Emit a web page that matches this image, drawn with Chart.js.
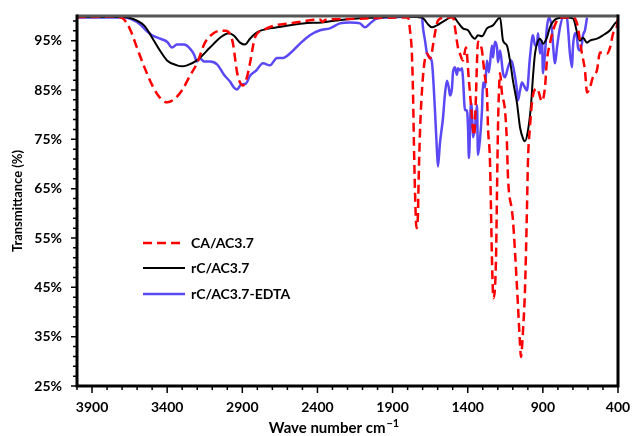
<!DOCTYPE html>
<html>
<head>
<meta charset="utf-8">
<script src="https://cdn.jsdelivr.net/npm/chart.js@4.4.1/dist/chart.umd.min.js"></script>
<style>
  html, body { margin: 0; padding: 0; background: #fff; }
  #wrap { width: 632px; height: 436px; }
</style>
</head>
<body>
<div id="wrap"><canvas id="ftir"></canvas></div>
<script>
// tick labels
const waveTicks = [3900, 3400, 2900, 2400, 1900, 1400, 900, 400];
const pctTicks = [25, 35, 45, 55, 65, 75, 85, 95];

// CA/AC3.7 (red dashed)
const caWave = [4000, 3900, 3760, 3700, 3650, 3600, 3550, 3500, 3450, 3400, 3350, 3300, 3250, 3200, 3150, 3100, 3050, 3010, 2980, 2962, 2935, 2915, 2895, 2870, 2849, 2816, 2762, 2683, 2583, 2480, 2383, 2365, 2350, 2200, 2000, 1850, 1797, 1784, 1771, 1764, 1758, 1751, 1741, 1731, 1728, 1718, 1698, 1671, 1651, 1618, 1598, 1551, 1498, 1485, 1465, 1452, 1432, 1412, 1392, 1378, 1358, 1345, 1338, 1332, 1305, 1298, 1285, 1272, 1265, 1252, 1245, 1239, 1229, 1212, 1205, 1199, 1192, 1185, 1172, 1152, 1139, 1132, 1106, 1099, 1072, 1052, 1046, 1032, 1019, 1006, 999, 986, 966, 939, 906, 886, 873, 853, 833, 786, 700, 673, 640, 620, 606, 587, 567, 540, 520, 473, 453, 433, 407, 400];
const caT = [99.8, 99.8, 99.9, 99.6, 97.5, 93.5, 89.5, 86, 83.5, 82.5, 83.2, 85, 87.8, 90.5, 94.5, 96.3, 97, 97, 96.2, 94.4, 88.6, 86.5, 85.9, 87.5, 90.4, 95.6, 97.1, 98.1, 98.5, 99, 99.3, 98.8, 99.2, 99.4, 99.6, 99.7, 99.7, 97.1, 92.0, 84.3, 74.2, 64.7, 57.0, 60.0, 64.7, 76.2, 87.6, 92.4, 91.4, 96.5, 99.1, 99.7, 99.7, 97.7, 93.6, 92.4, 91.0, 93.6, 86.9, 81.9, 75.8, 83.9, 91.0, 94.8, 93.0, 91.0, 87.6, 84.3, 77.4, 70.7, 60.6, 51.1, 42.8, 50.5, 64.7, 76.8, 84.9, 88.4, 84.3, 80.9, 74.2, 67.3, 60.6, 58.6, 45.0, 33.5, 30.9, 36.3, 44.4, 60.6, 70.7, 77.4, 83.9, 85.3, 82.7, 85.5, 91, 94.4, 97, 99.7, 99.7, 98.5, 92.4, 89, 84.5, 85.5, 87.6, 89, 92.6, 92.4, 93.6, 96.4, 98, 99.7];

// rC/AC3.7 (black)
const rcWave = [4000, 3700, 3647, 3554, 3488, 3448, 3401, 3335, 3301, 3268, 3202, 3115, 3048, 2989, 2955, 2915, 2882, 2849, 2802, 2716, 2669, 2496, 2370, 2270, 2137, 1984, 1884, 1704, 1684, 1664, 1638, 1605, 1551, 1498, 1465, 1432, 1398, 1372, 1352, 1332, 1305, 1272, 1232, 1185, 1165, 1139, 1119, 1099, 1072, 1052, 1030, 1019, 999, 979, 966, 952, 932, 919, 899, 873, 853, 806, 740, 700, 653, 633, 606, 587, 540, 500, 453, 420, 400];
const rcT = [99.8, 99.8, 99.6, 98.1, 95.0, 93.0, 91.0, 90.0, 89.8, 90.0, 91.0, 93.6, 95.6, 96.5, 96.0, 94.6, 94.2, 95.4, 96.7, 97.5, 97.7, 98.5, 98.7, 99.1, 99.5, 99.7, 99.9, 99.7, 99.1, 98.3, 97.7, 98.1, 99.1, 99.9, 98.7, 97.5, 97.1, 95.9, 95.4, 96.1, 95.9, 97.5, 98.1, 99.7, 95.0, 94.0, 91.0, 86.9, 82.3, 77.4, 75.0, 74.6, 76.8, 81.9, 87.6, 92.4, 95.0, 95.4, 94.4, 95.6, 97.7, 99.5, 99.7, 99.5, 95.0, 95.6, 94.6, 95.0, 95.4, 96.1, 97.1, 98.5, 98.9];

// rC/AC3.7-EDTA (blue)
const edtaWave = [4000, 3700, 3687, 3634, 3581, 3534, 3501, 3448, 3401, 3368, 3335, 3288, 3248, 3221, 3202, 3182, 3155, 3115, 3068, 3022, 2982, 2955, 2935, 2909, 2876, 2849, 2809, 2762, 2716, 2669, 2629, 2583, 2516, 2450, 2383, 2317, 2250, 2184, 2117, 2084, 2050, 2004, 1917, 1784, 1704, 1698, 1684, 1671, 1651, 1638, 1618, 1605, 1598, 1585, 1565, 1551, 1538, 1525, 1518, 1505, 1498, 1485, 1472, 1465, 1452, 1438, 1432, 1418, 1405, 1398, 1392, 1378, 1372, 1365, 1352, 1338, 1332, 1319, 1305, 1298, 1285, 1272, 1259, 1239, 1232, 1219, 1205, 1199, 1185, 1165, 1152, 1132, 1112, 1086, 1072, 1066, 1052, 1039, 1026, 1006, 986, 966, 952, 939, 932, 919, 906, 899, 886, 873, 859, 839, 833, 819, 806, 786, 766, 740, 733, 720, 706, 700, 686, 673, 666, 653, 640, 633, 620, 606];
const edtaT = [99.7, 99.7, 99.7, 99.3, 98.3, 96.9, 96.1, 95.4, 94.8, 93.6, 94.2, 94.2, 93.4, 92.2, 90.8, 91.4, 90.8, 90.8, 90.2, 88.1, 86.7, 85.5, 85.1, 86.1, 86.3, 87.9, 88.9, 90.4, 90.0, 91.5, 91.5, 92.4, 94.4, 96.1, 97.1, 97.5, 98.5, 98.7, 98.5, 97.7, 98.5, 99.5, 99.7, 99.9, 99.7, 97.7, 95.0, 92.4, 91.6, 90.6, 80.9, 72.8, 69.5, 74.2, 79.2, 84.3, 86.9, 85.3, 83.9, 85.3, 88.6, 89.6, 88.1, 89.4, 89.0, 89.4, 87.6, 80.9, 80.9, 77.4, 71.2, 82.5, 80.9, 75.4, 77.4, 81.9, 71.8, 74.8, 80.9, 86.5, 85.5, 91.0, 88.6, 94.0, 91.6, 94.8, 93.6, 90.6, 93.0, 88.4, 87.6, 89.6, 91.0, 87.9, 84.9, 82.9, 84.9, 86.5, 85.9, 84.9, 91.6, 96.1, 94.0, 94.4, 96.5, 92.4, 95.0, 88.4, 92.4, 97.7, 99.7, 97.1, 94.4, 90.4, 93.6, 97.7, 99.7, 99.7, 97.7, 92.4, 89.6, 93.6, 96.5, 95.6, 93.6, 93.0, 94.4, 96.1, 97.1, 99.7];

const FONT = 'Lato';
Chart.defaults.font.family = FONT;
Chart.defaults.font.weight = 'bold';
Chart.defaults.font.size = 14;
Chart.defaults.color = '#000';

const toPoints = (xs, ys) => xs.map((w, i) => ({ x: w, y: ys[i] }));

// no automatic edge padding from the tick labels
const noPad = s => {
    s.paddingLeft = 0;
    s.paddingRight = 0;
    s.paddingTop = 0;
    s.paddingBottom = 0;
};

// axis box, major/minor ticks
const framePlugin = {
    id: 'frame',
    afterDatasetsDraw(chart) {
        const { ctx, chartArea: a, scales: { x, y } } = chart;
        ctx.save();
        ctx.strokeStyle = '#000';
        ctx.lineWidth = 1.5;
        ctx.beginPath();
        for (let v = 25; v < 100; v += 2) {
            const py = y.getPixelForValue(v);
            const len = pctTicks.includes(v) ? 6 : 4;
            ctx.moveTo(a.left - len, py);
            ctx.lineTo(a.left, py);
        }
        for (let v = 400; v <= 4000; v += 100) {
            const px = x.getPixelForValue(v);
            const len = waveTicks.includes(v) ? 7 : 4;
            ctx.moveTo(px, a.bottom);
            ctx.lineTo(px, a.bottom + len);
        }
        ctx.stroke();

        ctx.lineWidth = 3;
        ctx.strokeStyle = '#555';
        ctx.beginPath();
        ctx.moveTo(a.left, a.top);
        ctx.lineTo(a.right, a.top);
        ctx.stroke();
        ctx.strokeStyle = '#000';
        ctx.beginPath();
        ctx.moveTo(a.right, a.top - 1.5);
        ctx.lineTo(a.right, a.bottom);
        ctx.moveTo(a.left, a.top - 1.5);
        ctx.lineTo(a.left, a.bottom + 1.5);
        ctx.moveTo(a.left - 1.5, a.bottom);
        ctx.lineTo(a.right + 1.5, a.bottom);
        ctx.stroke();
        ctx.restore();
    }
};

// legend inside the plot + x axis title with superscript
const labelPlugin = {
    id: 'labels',
    afterDraw(chart) {
        const { ctx, chartArea: a } = chart;
        ctx.save();
        const rows = [243, 268, 294];
        chart.data.datasets.forEach((ds, i) => {
            const yy = rows[i];
            ctx.strokeStyle = ds.borderColor;
            ctx.lineWidth = ds.borderWidth;
            ctx.setLineDash(ds.borderDash || []);
            ctx.beginPath();
            ctx.moveTo(a.left + 66, yy);
            ctx.lineTo(a.left + (ds.borderDash ? 104 : 108), yy);
            ctx.stroke();
            ctx.setLineDash([]);
            ctx.fillStyle = '#000';
            ctx.font = `bold 14px ${FONT}`;
            ctx.textBaseline = 'middle';
            ctx.fillText(ds.label, a.left + 114, yy);
        });

        const main = 'Wave number cm';
        const sup = '\u22121';
        ctx.font = `bold 15px ${FONT}`;
        const w1 = ctx.measureText(main).width;
        ctx.font = `bold 11px ${FONT}`;
        const w2 = ctx.measureText(sup).width;
        const cx = 334, cy = 428;
        const x0 = cx - (w1 + w2 + 1) / 2;
        ctx.textBaseline = 'middle';
        ctx.font = `bold 15px ${FONT}`;
        ctx.fillText(main, x0, cy);
        ctx.font = `bold 11px ${FONT}`;
        ctx.fillText(sup, x0 + w1 + 1, cy - 5);
        ctx.restore();
    }
};

new Chart(document.getElementById('ftir').getContext('2d'), {
    type: 'line',
    data: {
        datasets: [
            {
                label: 'CA/AC3.7',
                data: toPoints(caWave, caT),
                borderColor: '#ff0000',
                borderWidth: 2.5,
                borderDash: [9, 5],
                pointRadius: 0,
                cubicInterpolationMode: 'monotone'
            },
            {
                label: 'rC/AC3.7',
                data: toPoints(rcWave, rcT),
                borderColor: '#000000',
                borderWidth: 2,
                pointRadius: 0,
                cubicInterpolationMode: 'monotone'
            },
            {
                label: 'rC/AC3.7-EDTA',
                data: toPoints(edtaWave, edtaT),
                borderColor: 'rgb(90,72,245)',
                borderWidth: 2.5,
                pointRadius: 0,
                cubicInterpolationMode: 'monotone'
            }
        ]
    },
    options: {
        responsive: true,
        maintainAspectRatio: false,
        animation: false,
        layout: { padding: { left: 0, right: 14, top: 16, bottom: 0 } },
        plugins: {
            legend: { display: false },
            tooltip: { enabled: false }
        },
        scales: {
            x: {
                type: 'linear',
                reverse: true,
                min: 400,
                max: 4000,
                afterBuildTicks: s => { s.ticks = waveTicks.map(v => ({ value: v })); },
                afterFit: s => { s.height = 50; noPad(s); },
                ticks: { padding: 13, maxRotation: 0, autoSkip: false, callback: v => v },
                grid: { display: false, drawTicks: false },
                border: { display: false }
            },
            y: {
                min: 25,
                max: 100,
                afterBuildTicks: s => { s.ticks = pctTicks.map(v => ({ value: v })); },
                afterFit: s => { s.width = 77; noPad(s); },
                ticks: { padding: 15, callback: v => v + '%' },
                grid: { display: false, drawTicks: false },
                border: { display: false },
                title: {
                    display: true,
                    text: 'Transmittance (%)',
                    font: { size: 13, weight: 'bold' },
                    padding: { top: 10, bottom: 0 }
                }
            }
        }
    },
    plugins: [framePlugin, labelPlugin]
});
</script>
</body>
</html>
